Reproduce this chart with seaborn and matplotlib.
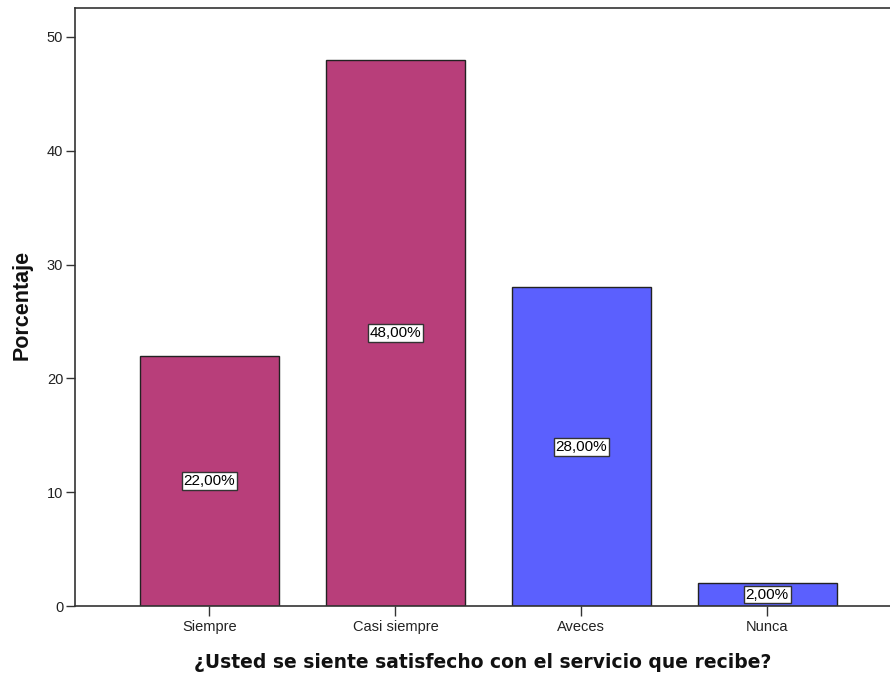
import matplotlib
matplotlib.use("Agg")
import matplotlib.pyplot as plt
import seaborn as sns
import pandas as pd

categorias = ["Siempre", "Casi siempre", "Aveces", "Nunca"]
porcentajes = [22.0, 48.0, 28.0, 2.0]
colores = ["#B83E7A", "#B83E7A", "#5B60FE", "#5B60FE"]
yticks = [0, 10, 20, 30, 40, 50]

df = pd.DataFrame({"categoria": categorias, "porcentaje": porcentajes})

sns.set_style("white")
plt.rcParams["font.family"] = ["Liberation Sans", "DejaVu Sans"]

fig = plt.figure(figsize=(8.9, 6.75), dpi=100)
ax = fig.add_axes([0.0843, 0.1022, 0.9157, 0.886])

sns.barplot(data=df, x="categoria", y="porcentaje", hue="categoria",
            palette=colores, legend=False, width=0.75,
            edgecolor="#222222", linewidth=1.0, saturation=1, ax=ax)

# value boxes centred on each bar
for i, v in enumerate(porcentajes):
    ax.text(i, v / 2, f"{v:.2f}%".replace(".", ","), ha="center", va="center",
            fontsize=11, color="black",
            bbox=dict(boxstyle="square,pad=0.12", facecolor="white",
                      edgecolor="#333333", linewidth=1.0))

ax.set_xlim(-0.723, 3.66)
ax.set_ylim(0, 52.55)
ax.set_yticks(yticks)
ax.set_yticklabels([str(t) for t in yticks])

for side in ["left", "bottom", "top"]:
    ax.spines[side].set_visible(True)
    ax.spines[side].set_color("#333333")
    ax.spines[side].set_linewidth(1.2)
ax.spines["right"].set_visible(False)

ax.tick_params(axis="both", which="major", direction="out", length=7,
               width=1, color="#333333", labelsize=10.5, labelcolor="#222222",
               pad=3, left=True, bottom=True)
ax.tick_params(axis="y", length=6.5, pad=2)

ax.set_xlabel("¿Usted se siente satisfecho con el servicio que recibe?",
              fontsize=13.5, fontweight="bold", family="DejaVu Sans",
              color="#111111", labelpad=14)
ax.set_ylabel("Porcentaje", fontsize=15.5, fontweight="bold",
              color="#111111")
ax.yaxis.set_label_coords(-0.0515, 0.503)

fig.savefig("out.png", dpi=100)
